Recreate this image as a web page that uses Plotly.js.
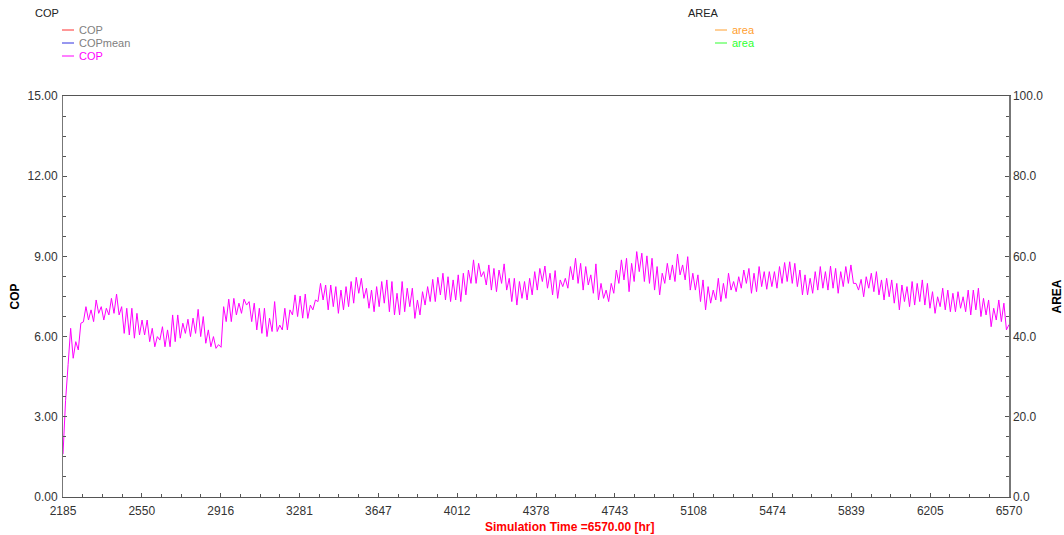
<!DOCTYPE html>
<html>
<head>
<meta charset="utf-8">
<script src="https://cdn.plot.ly/plotly-3.0.1.min.js"></script>
<style>
  html, body { margin: 0; padding: 0; background: #ffffff; }
  #chart { width: 1064px; height: 535px; }
</style>
</head>
<body>
<div id="chart"></div>
<script>
// ---- data ----
const timeStart = 2185;
const timeEnd = 6570;
const xTickLabels = ['2185','2550','2916','3281','3647','4012','4378','4743','5108','5474','5839','6205','6570'];

const copValues = [
  1.6, 3.6, 4.95,
  6.31, 5.19, 5.81, 5.5, 6.5, 6.55, 7.12, 6.62, 7.0, 6.56, 7.37, 6.87, 7.12, 6.62, 7.06, 6.81,
  7.43, 6.87, 7.59, 6.81, 7.12, 6.12, 7.06, 6.06, 7.06, 5.94, 6.87, 6.06, 6.62, 6.06, 6.62, 5.81,
  6.31, 5.62, 6.0, 5.87, 6.37, 5.62, 6.25, 5.62, 6.81, 5.81, 6.81, 5.94, 6.5, 6.12, 6.65, 6.0,
  6.69, 6.12, 7.02, 6.0, 6.75, 5.75, 6.25, 5.62, 6.0, 5.56, 5.7, 5.6, 7.12, 6.56, 7.4, 6.56,
  7.43, 6.81, 7.25, 6.87, 7.4, 7.18, 7.31, 6.56, 7.25, 6.25, 7.06, 6.12, 7.06, 6.0, 6.69, 6.19,
  7.31, 6.19, 6.43, 6.25, 7.06, 6.25, 7.0, 6.81, 7.56, 6.75, 7.52, 6.69, 7.59,
  6.68, 7.18, 7.0, 7.37, 7.31, 7.99, 7.37, 7.93, 7.0, 7.93, 7.12, 7.87, 6.87, 7.74, 7.0, 7.87,
  7.12, 8.06, 7.25, 8.22, 7.62, 8.18, 7.43, 7.81, 7.06, 7.74, 6.93, 7.87, 7.12, 8.06, 7.25, 8.12,
  6.93, 8.06, 6.81, 7.62, 6.81, 8.06, 6.93, 7.81, 7.12, 7.81, 6.68, 7.37, 6.81, 7.68, 7.18, 7.87,
  7.31, 8.14, 7.31, 8.22, 7.56, 8.37, 7.37, 8.24, 7.31, 8.12, 7.37, 8.31, 7.31, 8.37, 7.56, 8.49,
  7.99, 8.87, 7.99, 8.74, 8.24, 8.43, 7.93, 8.68, 7.74, 8.55, 7.68, 8.49, 7.99, 8.72, 7.74, 8.18,
  7.31, 8.18, 7.18, 8.06, 7.43, 8.06, 7.37, 8.18, 7.56, 8.43,
  7.74, 8.55, 8.06, 8.64, 7.81, 8.37, 7.56, 8.47, 7.43, 8.12, 7.87, 8.18, 7.81, 8.62, 8.12, 8.93,
  7.99, 8.74, 7.74, 8.62, 7.93, 8.31, 7.62, 8.72, 7.37, 7.99, 7.43, 7.74, 7.31, 7.99, 7.62, 8.49,
  7.99, 8.87, 8.12, 8.93, 7.68, 8.74, 8.06, 9.18, 8.43, 9.12, 8.06, 9.02, 7.99, 8.93, 7.74, 8.62,
  7.56, 8.37, 7.99, 8.74, 8.12, 8.68, 8.06, 9.09, 8.31, 8.68, 8.12, 8.99, 7.74, 8.37, 7.74, 8.31,
  7.31, 8.12, 7.0, 7.87, 7.25, 7.74, 7.37, 8.18, 7.31, 7.99, 7.43, 8.37, 7.74, 8.06, 7.68, 8.24,
  7.81, 8.49, 7.99, 8.55, 7.62, 8.37, 7.68, 8.62, 7.87, 8.43,
  7.77, 8.43, 7.87, 8.43, 7.81, 8.62, 7.99, 8.77, 8.06, 8.80, 7.99, 8.74, 7.87, 8.49, 7.56, 8.31,
  7.56, 8.18, 7.62, 8.43, 7.74, 8.62, 7.81, 8.43, 7.74, 8.64, 7.81, 8.55, 7.62, 8.43, 7.87, 8.62,
  7.99, 8.68, 7.99, 7.99, 7.74, 8.14, 7.49, 8.24, 7.81, 8.37, 7.68, 8.43, 7.56, 8.12, 7.37, 8.18,
  7.49, 8.12, 7.25, 7.99, 7.0, 7.93, 7.31, 7.87, 7.12, 8.06, 7.18, 7.99, 7.31, 8.12, 7.18, 7.99,
  7.06, 7.68, 6.87, 7.49, 7.12, 7.81, 7.0, 7.74, 6.93, 7.62, 6.93, 7.68, 7.06, 7.49, 6.93, 7.74,
  6.81, 7.74, 7.0, 7.81, 6.75, 7.43, 6.81, 7.37, 6.37, 7.06, 6.62, 7.37, 6.56, 7.25, 6.25, 6.45
];

// AREA series (not drawn in the reference: empty)
const areaValues = [];
const areaTimes = [];

// legend groups
const copLegendTitle = 'COP';
const copLegendNames = ['COP', 'COPmean', 'COP'];
const copLegendLineColors = ['#ff3030', '#3030e0', '#ff00ff'];
const copLegendTextColors = ['#808080', '#808080', '#ff00ff'];
const areaLegendTitle = 'AREA';
const areaLegendNames = ['area', 'area'];
const areaLegendLineColors = ['#ffa030', '#30ff30'];
const areaLegendTextColors = ['#ffa030', '#30ff30'];

// ---- build ----
const n = copValues.length;
const times = copValues.map((_, i) => timeStart + i * (timeEnd - timeStart) / (n - 1));
const xTickVals = xTickLabels.map(Number);

const W = 1064, H = 535;
const M = {l: 63, r: 55, t: 96, b: 38};
const PW = W - M.l - M.r, PH = H - M.t - M.b;
const px = x => (x - M.l) / PW;
const py = y => (H - M.b - y) / PH;

const font = 'Liberation Sans, Arial, sans-serif';
const annotations = [];
const shapes = [];

function legendGroup(x0, title, names, lineColors, textColors) {
  annotations.push({xref: 'paper', yref: 'paper', x: px(x0), y: py(13), xanchor: 'left', yanchor: 'middle',
    text: title, showarrow: false, font: {family: font, size: 11, color: '#222'}});
  names.forEach((nm, i) => {
    const yy = 30 + i * 13;
    shapes.push({type: 'line', xref: 'paper', yref: 'paper', x0: px(x0 + 29), x1: px(x0 + 41), y0: py(yy), y1: py(yy),
      line: {color: lineColors[i], width: 1}});
    annotations.push({xref: 'paper', yref: 'paper', x: px(x0 + 44), y: py(yy), xanchor: 'left', yanchor: 'middle',
      text: nm, showarrow: false, font: {family: font, size: 11, color: textColors[i]}});
  });
}
legendGroup(33, copLegendTitle, copLegendNames, copLegendLineColors, copLegendTextColors);
legendGroup(686, areaLegendTitle, areaLegendNames, areaLegendLineColors, areaLegendTextColors);

annotations.push({xref: 'paper', yref: 'paper', x: px(570), y: py(527), xanchor: 'center', yanchor: 'middle',
  text: '<b>Simulation Time =6570.00 [hr]</b>', showarrow: false, font: {family: font, size: 12, color: '#ff0000'}});

const traces = [
  {x: times, y: copValues, type: 'scatter', mode: 'lines', name: 'COP',
   line: {color: '#ff00ff', width: 1}, yaxis: 'y', hoverinfo: 'x+y'},
  {x: areaTimes, y: areaValues, type: 'scatter', mode: 'lines', name: 'area',
   line: {color: '#ffa030', width: 1}, yaxis: 'y2'}
];

const layout = {
  width: W, height: H,
  margin: M,
  paper_bgcolor: '#ffffff', plot_bgcolor: '#ffffff',
  showlegend: false,
  font: {family: font, size: 12, color: '#333'},
  xaxis: {
    range: [timeStart, timeEnd], tickmode: 'array', tickvals: xTickVals, ticktext: xTickLabels,
    ticks: 'inside', ticklen: 4, tickcolor: '#555', showgrid: false, zeroline: false,
    showline: true, linecolor: '#555', linewidth: 1, mirror: true,
    ticklabelstandoff: 3,
    tickfont: {family: font, size: 12, color: '#333'},
    minor: {tickmode: 'linear', tick0: timeStart, dtick: (timeEnd - timeStart) / 48, ticks: 'inside', ticklen: 3, tickcolor: '#555', showgrid: false}
  },
  yaxis: {
    range: [0, 15], tickmode: 'linear', tick0: 0, dtick: 3, tickformat: '.2f',
    ticks: 'inside', ticklen: 4, tickcolor: '#555', showgrid: false, zeroline: false,
    showline: true, linecolor: '#777', linewidth: 1,
    ticklabelstandoff: 2,
    tickfont: {family: font, size: 12, color: '#333'},
    title: {text: '<b>COP</b>', standoff: 5, font: {family: font, size: 12, color: '#000'}},
    minor: {tickmode: 'linear', tick0: 0, dtick: 0.75, ticks: 'inside', ticklen: 3, tickcolor: '#555', showgrid: false}
  },
  yaxis2: {
    range: [0, 100], tickmode: 'linear', tick0: 0, dtick: 20, tickformat: '.1f',
    overlaying: 'y', side: 'right', anchor: 'x',
    ticks: 'inside', ticklen: 4, tickcolor: '#555', showgrid: false, zeroline: false,
    showline: true, linecolor: '#777', linewidth: 1.5,
    tickfont: {family: font, size: 12, color: '#333'},
    title: {text: '<b>AREA</b>', standoff: 11, font: {family: font, size: 12, color: '#000'}},
    minor: {tickmode: 'linear', tick0: 0, dtick: 5, ticks: 'inside', ticklen: 3, tickcolor: '#555', showgrid: false}
  },
  annotations: annotations,
  shapes: shapes
};

Plotly.newPlot('chart', traces, layout, {displayModeBar: false, staticPlot: true});
</script>
</body>
</html>
